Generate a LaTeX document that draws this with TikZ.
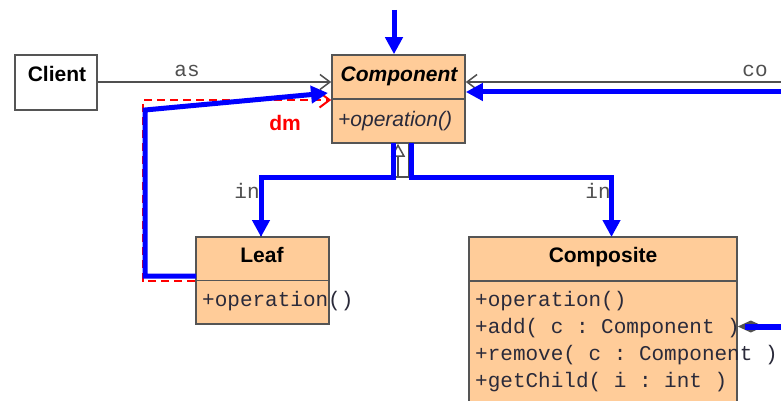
\documentclass[tikz,border=0pt]{standalone}
\usepackage{fontspec}
\setmainfont{Liberation Sans}
\setmonofont{Liberation Mono}
\usetikzlibrary{arrows.meta,calc}
\definecolor{peach}{HTML}{FFCC99}
\definecolor{boxline}{HTML}{555555}
\definecolor{mtext}{HTML}{2A2A3A}
\definecolor{conn}{HTML}{505050}
\definecolor{umlblue}{HTML}{0000FF}
\definecolor{umlred}{HTML}{FF0000}
\begin{document}
\begin{tikzpicture}[x=1pt,y=-1pt,
  box/.style={draw=boxline, line width=1.6pt, fill=peach, inner sep=0pt, rectangle},
  whitebox/.style={draw=boxline, line width=1.6pt, fill=white, inner sep=0pt, rectangle},
  divider/.style={draw=boxline, line width=1.6pt},
  title/.style={inner sep=0pt, anchor=base, font=\fontsize{21}{25}\selectfont\bfseries},
  ititle/.style={inner sep=0pt, anchor=base, font=\fontsize{21}{25}\selectfont\bfseries\itshape},
  itop/.style={inner sep=0pt, anchor=base west, text=mtext, font=\fontsize{21}{25}\selectfont\itshape},
  mop/.style={inner sep=0pt, anchor=base west, text=mtext, font=\fontsize{21}{25}\selectfont\ttfamily},
  mlabel/.style={inner sep=0pt, anchor=base, text=conn, font=\fontsize{21}{25}\selectfont\ttfamily},
  redlabel/.style={inner sep=0pt, anchor=base, text=umlred, font=\fontsize{21}{25}\selectfont\bfseries},
  graycon/.style={draw=conn, line width=1.5pt},
  openhead/.style={-{Straight Barb[length=10pt,width=15pt,line width=1.5pt]}},
  bluecon/.style={draw=umlblue, line width=5pt},
  bluehead/.style={-{Triangle[length=17pt,width=17pt]}},
  reddash/.style={draw=umlred, line width=2pt, dash pattern=on 8pt off 5pt},
]
\clip (0,0) rectangle (781,401);
\fill[white] (0,0) rectangle (781,401);

% boxes
\node[whitebox, minimum width=82pt, minimum height=55pt] (client) at (56,82.5) {};
\node[box, minimum width=133pt, minimum height=88pt] (component) at (398.5,99) {};
\node[box, minimum width=133pt, minimum height=87pt] (leaf) at (262.5,280.5) {};
\node[box, minimum width=268pt, minimum height=193pt] (composite) at (603,333.5) {};
\draw[divider] (component.west) -- (component.east);
\draw[divider] (leaf.west) -- (leaf.east);
\draw[divider] (composite.west |- 0,281) -- (composite.east |- 0,281);

% texts
\node[title] (clienttxt) at (57,82) {Client};
\node[ititle] (comptxt) at (399,82) {Component};
\node[itop] (compop) at (338,127) {+operation()};
\node[title] (leaftxt) at (262,262) {Leaf};
\node[mop] (leafop) at (202,306) {+operation()};
\node[title] (comptitle) at (603,262) {Composite};
\node[mop] (cop1) at (475,306) {+operation()};
\node[mop] (cop2) at (475,333) {+add( c : Component )};
\node[mop] (cop3) at (475,360) {+remove( c : Component )};
\node[mop] (cop4) at (475,387) {+getChild( i : int )};

% free ends and helper points
\coordinate (cofree) at (781,82);
\coordinate (bluefree) at (781,92);
\coordinate (topfree) at (394,10);
\coordinate (aggfree) at (781,326.5);
\coordinate (junc) at (398,177);
\coordinate (junc2) at (409,177);
\coordinate (leafin) at (261,237);
\coordinate (compin) at (611.5,237);
\coordinate (compoutL) at (393,143);
\coordinate (compoutR) at (411,143);
\coordinate (leafout) at (196,276);
\coordinate (bend) at (145,110);
\coordinate (blueend) at (328,93);

% gray UML connectors
\draw[graycon, openhead] (client.east |- 0,82) -- (component.west |- 0,82);
\draw[graycon, openhead] (cofree) -- (cofree -| component.east);
\draw[graycon] (leafin) |- (junc);
\draw[graycon] (compin) |- (junc2) -- (junc);
\draw[graycon] (junc2) -- (junc2 |- component.south);
\draw[graycon, -{Triangle[open, length=13pt, width=14pt, fill=white, line width=1.5pt]}] (junc) -- (junc |- component.south);
\draw[graycon, {Diamond[length=26pt,width=12pt,fill=conn]}-] (aggfree -| composite.east) -- (aggfree);

% red dashed dependency
\draw[reddash, -{Straight Barb[length=10pt,width=15pt,line width=2pt]}] (leaf.west) -| (143,100) -- (component.west |- 0,100);
\node[redlabel] (dm) at (285,130) {dm};

% labels
\node[mlabel] (as) at (187,77) {as};
\node[mlabel] (co) at (755,77) {co};
\node[mlabel] (in1) at (247,198) {in};
\node[mlabel] (in2) at (598,198) {in};

% blue overlays
\draw[bluecon, bluehead] (topfree) -- (topfree |- component.north);
\draw[bluecon, bluehead] (bluefree) -- (bluefree -| component.east);
\draw[bluecon, bluehead] (leafout) -| (bend) -- (blueend);
\draw[bluecon, bluehead] (compoutL) |- (leafin |- junc) -- (leafin);
\draw[bluecon, bluehead] (compoutR) |- (compin |- junc) -- (compin);
\draw[bluecon, line width=6pt] (745,326.5) -- (aggfree);
\end{tikzpicture}
\end{document}
